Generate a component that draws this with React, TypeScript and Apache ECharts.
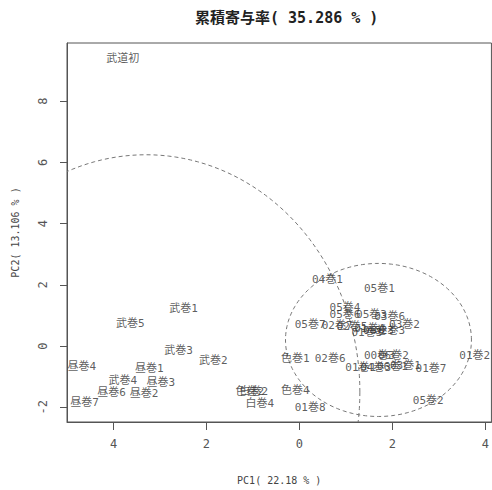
import React, { useEffect, useRef } from "react";
import * as echarts from "echarts";

const titleText = "累積寄与率( 35.286 % )";
const xName = "PC1( 22.18 % )";
const yName = "PC2( 13.106 % )";
const xTicks = [-4, -2, 0, 2, 4];
const yTicks = [-2, 0, 2, 4, 6, 8];

const labels = [
  "武道初", "武巻1", "武巻5", "武巻3", "武巻2", "昼巻4", "昼巻1", "武巻4", "昼巻3", "昼巻6",
  "昼巻2", "昼巻7", "色巻2", "白巻2", "白巻4", "色巻4", "01巻8", "色巻1", "02巻6", "04巻1",
  "05巻1", "05巻4", "05巻6", "05巻3", "03巻6", "05巻7", "02巻7", "02巻5", "01巻4", "02巻3",
  "03巻2", "01巻3", "06巻3", "00巻3", "06巻2", "01巻1", "04巻3", "06巻1", "03巻1", "01巻7",
  "01巻2", "05巻2",
];
const pc1 = [
  -3.8, -2.49, -3.64, -2.6, -1.85, -4.68, -3.23, -3.8, -2.98, -4.04,
  -3.34, -4.62, -1.07, -0.98, -0.85, -0.09, 0.23, -0.09, 0.66, 0.6,
  1.72, 0.98, 0.98, 1.55, 1.94, 0.23, 0.81, 1.13, 1.51, 1.94,
  2.26, 1.45, 1.7, 1.72, 2.02, 1.32, 1.64, 2.0, 2.28, 2.83,
  3.77, 2.77,
];
const pc2 = [
  9.39, 1.23, 0.74, -0.16, -0.48, -0.68, -0.74, -1.13, -1.19, -1.52,
  -1.55, -1.84, -1.47, -1.5, -1.87, -1.45, -2.0, -0.39, -0.42, 2.19,
  1.87, 1.26, 1.03, 1.03, 0.97, 0.71, 0.68, 0.65, 0.58, 0.52,
  0.71, 0.45, 0.52, -0.32, -0.32, -0.71, -0.71, -0.68, -0.65, -0.74,
  -0.32, -1.77,
];

// ellipses: centre x, centre y, semi-axis x, semi-axis y
const ellipseCx = [-3.3, 1.7];
const ellipseCy = [-1.5, 0.2];
const ellipseRx = [4.6, 2.0];
const ellipseRy = [7.75, 2.5];

const mono = "'DejaVu Sans Mono', 'Noto Sans CJK JP', monospace";

export default function App() {
  const ref = useRef<HTMLDivElement>(null);
  useEffect(() => {
    if (!ref.current) return;
    const chart = echarts.init(ref.current, null, { renderer: "svg" });
    const pointData = labels.map((n, i) => ({ name: n, value: [pc1[i], pc2[i]] }));
    const ellipseData = ellipseCx.map((c, i) => [c, ellipseCy[i], ellipseRx[i], ellipseRy[i]]);
    chart.setOption({
      animation: false,
      backgroundColor: "#ffffff",
      title: {
        text: titleText,
        left: 190,
        top: 5,
        textStyle: { fontFamily: mono, fontSize: 15, fontWeight: "bold", color: "#222" },
      },
      grid: {
        left: 67,
        top: 43,
        width: 429,
        height: 384,
        show: true,
        borderColor: "#555",
        borderWidth: 1,
        backgroundColor: "transparent",
      },
      xAxis: {
        type: "value",
        min: -5,
        max: 4.13,
        name: xName,
        nameLocation: "middle",
        nameGap: 53,
        nameTextStyle: { fontFamily: mono, fontSize: 10, color: "#444" },
        axisLine: { show: true, onZero: false, lineStyle: { color: "#555" } },
        axisTick: { show: true, length: 8, customValues: xTicks, lineStyle: { color: "#555" } },
        axisLabel: {
          customValues: xTicks,
          margin: 16,
          fontFamily: mono,
          fontSize: 12,
          color: "#555",
          formatter: (v: number) => String(Math.abs(v)),
        },
        splitLine: { show: false },
      },
      yAxis: {
        type: "value",
        min: -2.48,
        max: 9.9,
        name: yName,
        nameLocation: "middle",
        nameGap: 47,
        nameRotate: 90,
        nameTextStyle: { fontFamily: mono, fontSize: 10, color: "#444" },
        axisLine: { show: true, onZero: false, lineStyle: { color: "#555" } },
        axisTick: { show: true, length: 7, customValues: yTicks, lineStyle: { color: "#555" } },
        axisLabel: {
          customValues: yTicks,
          rotate: 90,
          margin: 18,
          fontFamily: mono,
          fontSize: 12,
          color: "#555",
        },
        splitLine: { show: false },
      },
      series: [
        {
          type: "custom",
          silent: true,
          data: ellipseData,
          renderItem: (params: any, api: any) => {
            const cx = api.value(0);
            const cy = api.value(1);
            const rx = api.value(2);
            const ry = api.value(3);
            const pts: number[][] = [];
            for (let k = 0; k <= 180; k++) {
              const t = (k / 180) * Math.PI * 2;
              pts.push(api.coord([cx + rx * Math.cos(t), cy + ry * Math.sin(t)]));
            }
            const cs = params.coordSys;
            return {
              type: "polyline",
              shape: { points: pts },
              style: { fill: "none", stroke: "#777", lineWidth: 1, lineDash: [4, 3] },
              clipPath: { type: "rect", shape: { x: cs.x, y: cs.y, width: cs.width, height: cs.height } },
            };
          },
        },
        {
          type: "scatter",
          silent: true,
          symbolSize: 1,
          itemStyle: { color: "rgba(0,0,0,0)" },
          data: pointData,
          label: {
            show: true,
            position: "inside",
            formatter: "{b}",
            fontFamily: mono,
            fontSize: 11,
            color: "#333",
          },
        },
      ],
    });
    return () => chart.dispose();
  }, []);
  return (
    <div
      ref={ref}
      style={{ position: "fixed", left: 0, top: 0, width: 492, height: 490, background: "#fff" }}
    />
  );
}
